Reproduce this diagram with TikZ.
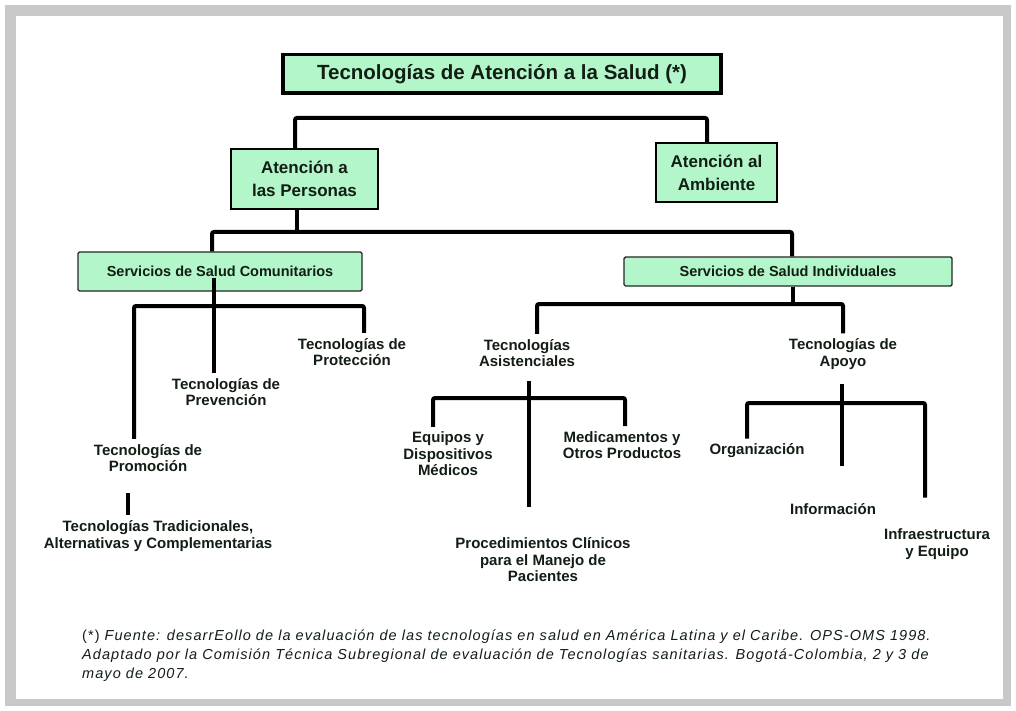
\documentclass[tikz,border=0pt]{standalone}
\usepackage{fontspec}
\setmainfont{Liberation Sans}
\definecolor{mint}{RGB}{178,246,202}
\definecolor{framegray}{RGB}{200,200,200}
\definecolor{txtc}{RGB}{18,30,20}
\begin{document}
\begin{tikzpicture}[x=1pt,y=-1pt,
  conn/.style={line width=4pt, black, rounded corners=2pt},
  bigbox/.style={draw=black, fill=mint, line width=1.8pt, align=center, text=txtc,
    font=\bfseries\fontsize{17}{23}\selectfont},
  svc/.style={draw=black!85, fill=mint, line width=1.4pt, rounded corners=1.5pt, text=txtc,
    font=\bfseries\fontsize{14.5}{16}\selectfont},
  lbl/.style={align=center, text=txtc, inner xsep=2pt, inner ysep=5pt,
    font=\bfseries\fontsize{15}{16.5}\selectfont},
  foot/.style={align=left, text=txtc, inner sep=0pt,
    font=\fontsize{14.5}{19}\selectfont\itshape\addfontfeatures{LetterSpace=7.3}}
]
\useasboundingbox (0,0) rectangle (1016,711);
\fill[framegray] (5,5) rectangle (1011,706);
\fill[white] (16,16) rectangle (1003,699);

% boxes
\node[draw=black, fill=mint, line width=3.5pt, minimum width=438pt, minimum height=38.5pt,
  text=txtc, font=\bfseries\fontsize{20.5}{24}\selectfont] (title) at (502,74)
  {Tecnologías de Atención a la Salud (*)};
\node[bigbox, minimum width=147pt, minimum height=60pt] (personas) at (304.5,179)
  {Atención a\\las Personas};
\node[bigbox, minimum width=121pt, minimum height=59pt] (ambiente) at (716.5,172.5)
  {Atención al\\Ambiente};
\node[svc, minimum width=284pt, minimum height=39pt] (comun) at (220,271.5)
  {Servicios de Salud Comunitarios};
\node[svc, minimum width=328pt, minimum height=29pt] (indiv) at (788,271.5)
  {Servicios de Salud Individuales};

% labels
\node[lbl] (proteccion) at (352,352) {Tecnologías de\\Protección};
\node[lbl] (prevencion) at (226,392) {Tecnologías de\\Prevención};
\node[lbl] (promocion) at (148,458) {Tecnologías de\\Promoción};
\node[lbl] (tradicionales) at (158,536) {Tecnologías Tradicionales,\\Alternativas y Complementarias};
\node[lbl] (asistenciales) at (527,353) {Tecnologías\\Asistenciales};
\node[lbl] (apoyo) at (843,354) {Tecnologías de\\Apoyo};
\node[lbl] (equipos) at (448,454) {Equipos y\\Dispositivos\\Médicos};
\node[lbl] (medicamentos) at (622,445) {Medicamentos y\\Otros Productos};
\node[lbl] (procedimientos) at (543,560) {Procedimientos Clínicos\\para el Manejo de\\Pacientes};
\node[lbl] (organizacion) at (757,451) {Organización};
\node[lbl] (informacion) at (833,509) {Información};
\node[lbl] (infra) at (937,544) {Infraestructura\\y Equipo};

% level 1
\coordinate (b1l) at (295,118); \coordinate (b1r) at (707,118);
\draw[conn] (personas.north -| b1l) -- (b1l) -- (b1r) -- (ambiente.north -| b1r);
% level 2
\coordinate (b2m) at (297,232); \coordinate (b2l) at (212,232); \coordinate (b2r) at (792,232);
\draw[conn] (personas.south -| b2m) -- (b2m);
\draw[conn] (comun.north -| b2l) -- (b2l) -- (b2r) -- (indiv.north -| b2r);
% comunitarios
\coordinate (c3) at (214,306); \coordinate (c3l) at (134,306); \coordinate (c3r) at (364,306);
\draw[conn] ([yshift=14pt]comun.south -| c3) -- (prevencion.north -| c3);
\draw[conn] (promocion.north -| c3l) -- (c3l) -- (c3r) -- (proteccion.north -| c3r);
\coordinate (p1) at (128,500);
\draw[conn, shorten <=16pt] (promocion.south -| p1) -- (tradicionales.north -| p1);
% individuales
\coordinate (i3) at (793,304); \coordinate (i3l) at (537,304); \coordinate (i3r) at (843,304);
\draw[conn] (indiv.south -| i3) -- (i3);
\draw[conn] (asistenciales.north -| i3l) -- (i3l) -- (i3r) -- (apoyo.north -| i3r);
% asistenciales
\coordinate (a4) at (529,398); \coordinate (a4l) at (433,398); \coordinate (a4r) at (625,398);
\draw[conn, shorten <=9pt, shorten >=26pt] (asistenciales.south -| a4) -- (procedimientos.north -| a4);
\draw[conn] (equipos.north -| a4l) -- (a4l) -- (a4r) -- (medicamentos.north -| a4r);
% apoyo
\coordinate (o4) at (842,403); \coordinate (o4l) at (747,403); \coordinate (o4r) at (925,403);
\draw[conn, shorten <=9pt, shorten >=32pt] (apoyo.south -| o4) -- (informacion.north -| o4);
\draw[conn, shorten >=26pt] (organizacion.north -| o4l) -- (o4l) -- (o4r) -- (infra.north -| o4r);

% footnote
\node[foot, anchor=base west] (fn) at (82,678)
  {{\upshape(*)} Fuente: desarrEollo de la evaluación de las tecnologías en salud en América Latina y el Caribe. OPS-OMS 1998.\\
   Adaptado por la Comisión Técnica Subregional de evaluación de Tecnologías sanitarias. Bogotá-Colombia, 2 y 3 de\\
   mayo de 2007.};
\end{tikzpicture}
\end{document}
